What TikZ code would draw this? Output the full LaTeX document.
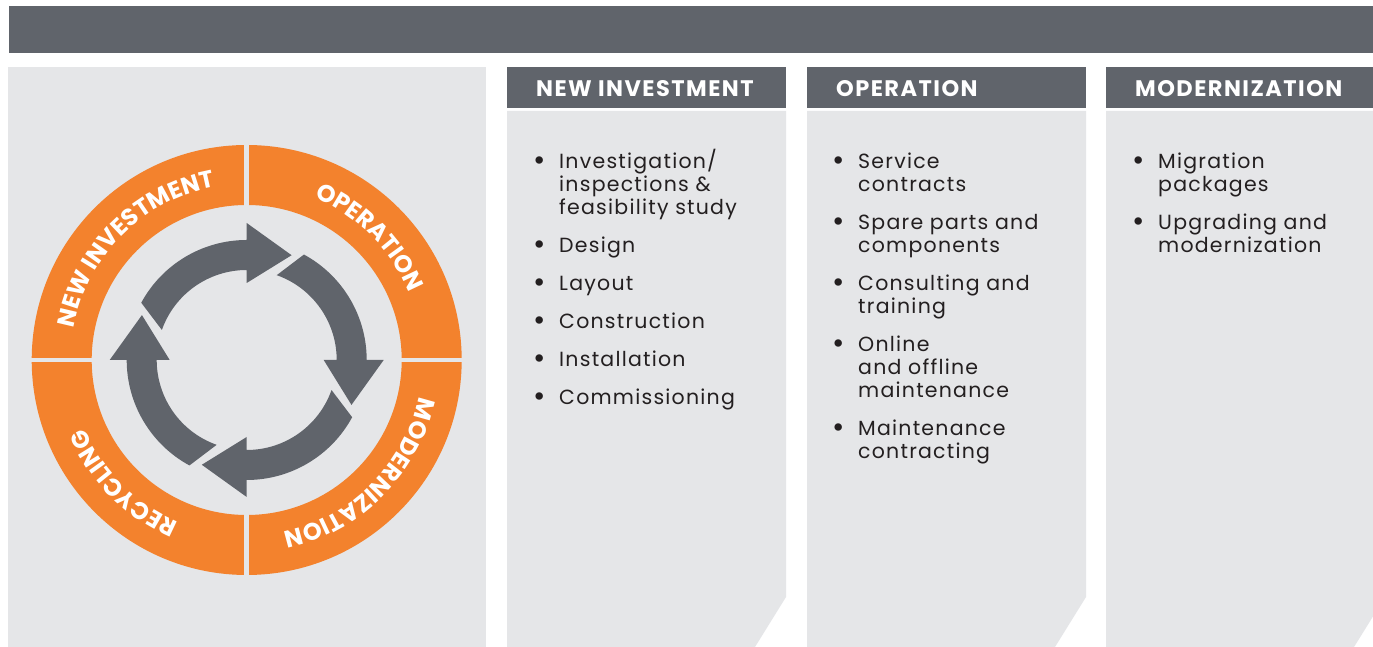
\documentclass[tikz,border=0pt]{standalone}
\usepackage{fontspec}
\setmainfont{Poppins}
\newfontfamily\itemfont[LetterSpace=6]{Poppins}
\newfontfamily\headfont[LetterSpace=6.5]{Poppins}
\usetikzlibrary{decorations.text}
\definecolor{bargray}{RGB}{96,100,107}
\definecolor{panelgray}{RGB}{229,230,232}
\definecolor{cycleorange}{RGB}{243,130,45}
\definecolor{bodytext}{RGB}{35,31,32}
\newcommand{\bulletitem}[1]{\llap{\raisebox{-2pt}{\fontsize{30}{30}\selectfont\textbullet}\hspace{13pt}}\parbox[t]{230pt}{\raggedright #1}}

\begin{document}
\begin{tikzpicture}[
    x=1pt, y=1pt,
    header/.style={anchor=base west, inner sep=0pt, text=white, font=\headfont\fontsize{22.5}{24}\selectfont\bfseries},
    item/.style={anchor=base west, inner sep=0pt, text=bodytext, font=\itemfont\fontsize{20.5}{23}\selectfont},
    ringtext/.style={decorate, decoration={text along path, text align=center, text color=white,
        text={|\fontsize{24}{26}\selectfont\bfseries|#1}}}
]
\fill[white] (0,0) rectangle (1373,647);
\useasboundingbox (0,0) rectangle (1373,647);

% top bar and left panel
\fill[bargray] (9,594) rectangle (1373,641);
\fill[panelgray] (8,0) rectangle (486,580);

% columns
\foreach \x in {507,807} {
    \fill[panelgray] (\x,0) -- (\x,536) -- (\x+279,536) -- (\x+279,50) -- (\x+248,0) -- cycle;
    \fill[bargray] (\x,539) rectangle (\x+279,580);
}
\fill[panelgray] (1106,0) -- (1106,536) -- (1373,536) -- (1373,30.6) -- (1354,0) -- cycle;
\fill[bargray] (1106,539) rectangle (1373,580);

\node[header] (h1) at (536,550) {NEW INVESTMENT};
\node[header] (h2) at (836,550) {OPERATION};
\node[header] (h3) at (1135,550) {MODERNIZATION};

% cycle ring
\coordinate (C) at (246.7,287);
\fill[cycleorange, even odd rule] (C) circle (215) (C) circle (155);
\fill[panelgray] (244.2,70) rectangle (249.2,504);
\fill[panelgray] (29,284.6) rectangle (464,289.4);

\path[ringtext=NEW INVESTMENT] (C) ++(180:176) arc[start angle=180, end angle=90, radius=176];
\path[ringtext=OPERATION] (C) ++(90:176) arc[start angle=90, end angle=0, radius=176];
\path[ringtext=MODERNIZATION] (C) ++(0:176) arc[start angle=0, end angle=-90, radius=176];
\path[ringtext=RECYCLING] (C) ++(-90:176) arc[start angle=-90, end angle=-180, radius=176];

% arrows
\foreach \a in {0,90,180,270}
    \fill[bargray, shift={(246.7,287)}, rotate=-\a] (151.5:120) arc[start angle=151.5, end angle=90, radius=120]
        -- (90:137) -- (66.8:114) -- (90:77) -- (90:90) arc[start angle=90, end angle=160.5, radius=90] -- cycle;

% new investment
\node[item] (n1) at (559,478) {\bulletitem{Investigation/\\inspections \&\\feasibility study}};
\node[item] (n2) at (559,394) {\bulletitem{Design}};
\node[item] (n3) at (559,356) {\bulletitem{Layout}};
\node[item] (n4) at (559,318) {\bulletitem{Construction}};
\node[item] (n5) at (559,280) {\bulletitem{Installation}};
\node[item] (n6) at (559,242) {\bulletitem{Commissioning}};

% operation
\node[item] (o1) at (858,478) {\bulletitem{Service\\contracts}};
\node[item] (o2) at (858,417) {\bulletitem{Spare parts and\\components}};
\node[item] (o3) at (858,356) {\bulletitem{Consulting and\\training}};
\node[item] (o4) at (858,295) {\bulletitem{Online\\and offline\\maintenance}};
\node[item] (o5) at (858,211) {\bulletitem{Maintenance\\contracting}};

% modernization
\node[item] (m1) at (1158,478) {\bulletitem{Migration\\packages}};
\node[item] (m2) at (1158,417) {\bulletitem{Upgrading and\\modernization}};
\end{tikzpicture}
\end{document}
